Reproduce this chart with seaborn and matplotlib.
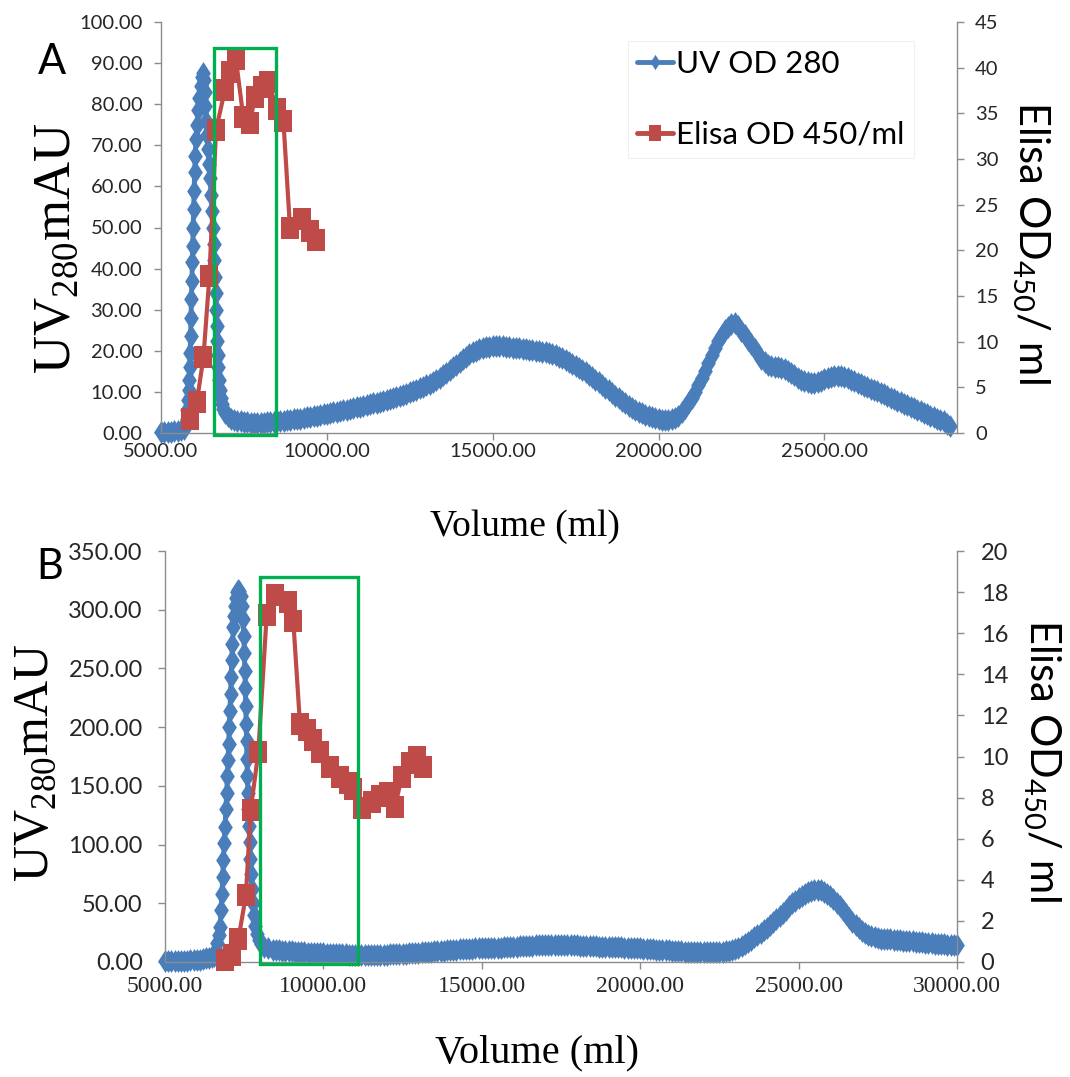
import matplotlib
matplotlib.use("Agg")
import matplotlib.pyplot as plt
import seaborn as sns
from matplotlib.lines import Line2D
from matplotlib.patches import Rectangle
from matplotlib.ticker import FormatStrFormatter, FixedLocator

# ---------------- data ----------------
# Panel A : UV OD 280 (volume ml, mAU)
A_UV = [
    (5000, 0.2), (5100, 0.25), (5200, 0.3), (5300, 0.35), (5400, 0.4), (5500, 0.5),
    (5600, 0.7), (5700, 1.0),
    (5740, 2.0), (5770, 3.5), (5795, 5.5), (5815, 8.0), (5835, 10.5), (5850, 13.0),
    (5865, 16.0), (5878, 19.5), (5890, 23.5), (5903, 28.0), (5916, 32.5), (5929, 37.0),
    (5942, 41.5), (5955, 45.5), (5968, 50.0), (5982, 54.5), (5998, 59.0), (6014, 63.5),
    (6032, 67.5), (6055, 71.5), (6085, 75.0), (6120, 78.5), (6160, 81.5), (6200, 84.5),
    (6240, 86.5), (6275, 87.5), (6300, 86.0), (6320, 83.0), (6340, 79.5), (6365, 76.0),
    (6390, 72.5), (6420, 69.0), (6450, 65.5), (6480, 62.0), (6510, 58.0), (6535, 54.0),
    (6560, 50.0), (6585, 46.0), (6605, 42.0), (6625, 38.0), (6645, 34.0), (6660, 30.0),
    (6675, 26.0), (6690, 22.5), (6705, 19.0), (6720, 16.0), (6740, 13.0), (6765, 10.5),
    (6795, 8.5), (6830, 7.0), (6880, 5.8), (6940, 4.8), (7010, 4.1),
    (7100, 3.5), (7200, 3.1), (7300, 2.95), (7400, 2.8), (7500, 2.7), (7600, 2.6),
    (7700, 2.55), (7800, 2.5), (7900, 2.5), (8000, 2.5), (8100, 2.55), (8200, 2.6),
    (8300, 2.65), (8400, 2.7), (8500, 2.8), (8600, 2.9), (8700, 3.0), (8800, 3.1),
    (8900, 3.2), (9000, 3.3), (9100, 3.4), (9200, 3.5), (9300, 3.65), (9400, 3.8),
    (9500, 3.95), (9600, 4.1), (9700, 4.25), (9800, 4.4), (9900, 4.55), (10000, 4.7),
    (10100, 4.85), (10200, 5.0), (10300, 5.15), (10400, 5.3), (10500, 5.5), (10600, 5.7),
    (10700, 5.9), (10800, 6.1), (10900, 6.25), (11000, 6.4), (11100, 6.6), (11200, 6.8),
    (11300, 7.0), (11400, 7.2), (11500, 7.4), (11600, 7.6), (11700, 7.8), (11800, 8.0),
    (11900, 8.25), (12000, 8.5), (12100, 8.75), (12200, 9.0), (12300, 9.3), (12400, 9.6),
    (12500, 9.9), (12600, 10.2), (12700, 10.55), (12800, 10.9), (12900, 11.25), (13000, 11.6),
    (13100, 12.0), (13200, 12.5), (13300, 13.0), (13400, 13.5), (13500, 14.1), (13600, 14.7),
    (13700, 15.35), (13800, 16.0), (13900, 16.65), (14000, 17.3), (14100, 17.95), (14200, 18.6),
    (14300, 19.1), (14400, 19.6), (14500, 20.0), (14600, 20.4), (14700, 20.7), (14800, 20.9),
    (14900, 21.0), (15000, 21.1), (15100, 21.1), (15200, 21.1), (15300, 21.05), (15400, 21.0),
    (15500, 20.9), (15600, 20.8), (15700, 20.7), (15800, 20.6), (15900, 20.5), (16000, 20.4),
    (16100, 20.25), (16200, 20.1), (16300, 20.0), (16400, 19.9), (16500, 19.75), (16600, 19.6),
    (16700, 19.4), (16800, 19.2), (16900, 18.9), (17000, 18.6), (17100, 18.2), (17200, 17.8),
    (17300, 17.35), (17400, 16.9), (17500, 16.4), (17600, 15.9), (17700, 15.35), (17800, 14.8),
    (17900, 14.2), (18000, 13.6), (18100, 12.95), (18200, 12.3), (18300, 11.65), (18400, 11.0),
    (18500, 10.35), (18600, 9.7), (18700, 9.05), (18800, 8.4), (18900, 7.8), (19000, 7.2),
    (19100, 6.65), (19200, 6.1), (19300, 5.65), (19400, 5.2), (19500, 4.8), (19600, 4.4),
    (19700, 4.1), (19800, 3.8), (19900, 3.55), (20000, 3.3), (20100, 3.2), (20200, 3.1),
    (20300, 3.15), (20400, 3.3), (20500, 3.7), (20600, 4.2), (20700, 5.0), (20800, 6.0),
    (20900, 7.2), (21000, 8.5), (21100, 10.0), (21200, 11.6), (21300, 13.4), (21400, 15.2),
    (21500, 17.1), (21600, 19.0), (21700, 20.8), (21800, 22.4), (21900, 23.8), (22000, 25.0),
    (22100, 25.9), (22200, 26.5), (22300, 26.8), (22400, 26.0), (22500, 24.9), (22600, 23.8),
    (22700, 22.7), (22800, 21.6), (22900, 20.4), (23000, 19.2), (23100, 18.1), (23200, 17.2),
    (23300, 16.6), (23400, 16.2), (23500, 16.1), (23600, 16.0), (23700, 15.8), (23800, 15.5),
    (23900, 15.0), (24000, 14.5), (24100, 14.0), (24200, 13.5), (24300, 13.0), (24400, 12.6),
    (24500, 12.3), (24600, 12.1), (24700, 12.2), (24800, 12.4), (24900, 12.75), (25000, 13.1),
    (25100, 13.4), (25200, 13.7), (25300, 13.85), (25400, 13.9), (25500, 13.8), (25600, 13.6),
    (25700, 13.3), (25800, 13.0), (25900, 12.6), (26000, 12.2), (26100, 11.85), (26200, 11.5),
    (26300, 11.15), (26400, 10.8), (26500, 10.45), (26600, 10.1), (26700, 9.75), (26800, 9.4),
    (26900, 9.0), (27000, 8.6), (27100, 8.25), (27200, 7.9), (27300, 7.5), (27400, 7.1),
    (27500, 6.75), (27600, 6.4), (27700, 6.0), (27800, 5.6), (27900, 5.25), (28000, 4.9),
    (28100, 4.55), (28200, 4.2), (28300, 3.85), (28400, 3.5), (28500, 3.15), (28600, 2.8),
    (28700, 2.3), (28800, 1.8),
]
A_UV_VOL, A_UV_VAL = map(list, zip(*A_UV))

# Panel A : Elisa OD 450/ml
A_EL_VOL = [5870, 6080, 6280, 6460, 6660, 6930, 7080, 7260, 7480, 7680,
            7830, 8040, 8240, 8490, 8690, 8890, 9240, 9490, 9670]
A_EL_VAL = [1.5, 3.4, 8.3, 17.2, 33.2, 37.6, 39.5, 40.9, 34.6, 33.9,
            36.8, 37.9, 38.4, 35.5, 34.2, 22.4, 23.4, 22.1, 21.1]

# Panel B : UV OD 280
B_UV = [
    (5000, 0.5), (5100, 0.55), (5200, 0.6), (5300, 0.7), (5400, 0.8), (5500, 0.9),
    (5600, 1.0), (5700, 1.15), (5800, 1.3), (5900, 1.5), (6000, 1.8), (6100, 2.1),
    (6200, 2.5), (6300, 3.0), (6400, 3.5), (6480, 4.2), (6560, 5.0),
    (6600, 10.0), (6650, 16.0), (6700, 23.0), (6740, 30.0), (6770, 44.0), (6795, 58.0),
    (6820, 72.0), (6840, 87.0), (6870, 101.0), (6895, 115.0), (6920, 130.0), (6945, 144.0),
    (6970, 158.0), (6990, 172.0), (7010, 186.0), (7030, 200.0), (7050, 214.0), (7070, 228.0),
    (7088, 243.0), (7105, 257.0), (7130, 271.0), (7160, 285.0), (7185, 295.0), (7210, 303.0),
    (7245, 310.0), (7280, 315.0), (7314, 317.0), (7350, 316.0), (7390, 312.0), (7430, 303.0),
    (7460, 292.0), (7485, 278.0), (7505, 263.0), (7520, 248.0), (7535, 233.0), (7548, 218.0),
    (7560, 203.0), (7573, 188.0), (7586, 173.0), (7600, 158.0), (7615, 144.0), (7630, 130.0),
    (7650, 116.0), (7670, 102.0), (7695, 88.0), (7720, 75.0), (7750, 62.0), (7780, 50.0),
    (7815, 40.0), (7855, 31.0), (7900, 24.0), (7960, 19.0), (8030, 15.0), (8120, 13.0),
    (8250, 11.5), (8400, 10.5), (8500, 10.2),
    (8600, 10.0), (8700, 9.75), (8800, 9.5), (8900, 9.25), (9000, 9.0), (9100, 8.8),
    (9200, 8.6), (9300, 8.4), (9400, 8.2), (9500, 8.05), (9600, 7.9), (9700, 7.75),
    (9800, 7.6), (9900, 7.45), (10000, 7.3), (10100, 7.15), (10200, 7.0), (10300, 6.9),
    (10400, 6.8), (10500, 6.65), (10600, 6.5), (10700, 6.4), (10800, 6.3), (10900, 6.2),
    (11000, 6.1), (11100, 6.05), (11200, 6.0), (11300, 6.0), (11400, 6.0), (11500, 6.0),
    (11600, 6.0), (11700, 6.05), (11800, 6.1), (11900, 6.2), (12000, 6.3), (12100, 6.4),
    (12200, 6.5), (12300, 6.65), (12400, 6.8), (12500, 6.95), (12600, 7.1), (12700, 7.3),
    (12800, 7.5), (12900, 7.7), (13000, 7.9), (13100, 8.1), (13200, 8.3), (13300, 8.5),
    (13400, 8.7), (13500, 8.95), (13600, 9.2), (13700, 9.45), (13800, 9.7), (13900, 9.95),
    (14000, 10.2), (14100, 10.4), (14200, 10.6), (14300, 10.8), (14400, 11.0), (14500, 11.15),
    (14600, 11.3), (14700, 11.45), (14800, 11.6), (14900, 11.7), (15000, 11.8), (15100, 11.9),
    (15200, 12.0), (15300, 12.05), (15400, 12.1), (15500, 12.2), (15600, 12.3), (15700, 12.45),
    (15800, 12.6), (15900, 12.75), (16000, 12.9), (16100, 13.1), (16200, 13.3), (16300, 13.5),
    (16400, 13.7), (16500, 13.85), (16600, 14.0), (16700, 14.15), (16800, 14.3), (16900, 14.4),
    (17000, 14.5), (17100, 14.55), (17200, 14.6), (17300, 14.6), (17400, 14.6), (17500, 14.55),
    (17600, 14.5), (17700, 14.4), (17800, 14.3), (17900, 14.2), (18000, 14.1), (18100, 14.0),
    (18200, 13.9), (18300, 13.75), (18400, 13.6), (18500, 13.45), (18600, 13.3), (18700, 13.15),
    (18800, 13.0), (18900, 12.9), (19000, 12.8), (19100, 12.7), (19200, 12.6), (19300, 12.5),
    (19400, 12.4), (19500, 12.3), (19600, 12.2), (19700, 12.1), (19800, 12.0), (19900, 11.8),
    (20000, 11.6), (20100, 11.4), (20200, 11.2), (20300, 11.0), (20400, 10.8), (20500, 10.6),
    (20600, 10.4), (20700, 10.2), (20800, 10.0), (20900, 9.8), (21000, 9.6), (21100, 9.4),
    (21200, 9.2), (21300, 9.05), (21400, 8.9), (21500, 8.8), (21600, 8.7), (21700, 8.6),
    (21800, 8.5), (21900, 8.45), (22000, 8.4), (22100, 8.4), (22200, 8.4), (22300, 8.45),
    (22400, 8.5), (22500, 8.65), (22600, 8.8), (22700, 9.15), (22800, 9.6), (22900, 10.2),
    (23000, 11.0), (23100, 12.1), (23200, 13.5), (23300, 15.2), (23400, 17.0), (23500, 19.0),
    (23600, 21.0), (23700, 23.0), (23800, 25.0), (23900, 27.0), (24000, 29.0), (24100, 31.5),
    (24200, 34.0), (24300, 36.5), (24400, 39.0), (24500, 41.7), (24600, 44.5), (24700, 47.3),
    (24800, 50.0), (24900, 52.3), (25000, 54.5), (25100, 56.3), (25200, 58.0), (25300, 59.3),
    (25400, 60.5), (25500, 61.1), (25600, 61.5), (25700, 61.0), (25800, 60.0), (25900, 58.2),
    (26000, 56.0), (26100, 53.4), (26200, 50.5), (26300, 47.3), (26400, 44.0), (26500, 40.7),
    (26600, 37.5), (26700, 34.4), (26800, 31.5), (26900, 28.8), (27000, 26.5), (27100, 24.6),
    (27200, 23.0), (27300, 21.9), (27400, 21.0), (27500, 20.4), (27600, 20.0), (27700, 19.7),
    (27800, 19.5), (27900, 19.2), (28000, 19.0), (28100, 18.7), (28200, 18.5), (28300, 18.2),
    (28400, 18.0), (28500, 17.7), (28600, 17.5), (28700, 17.2), (28800, 17.0), (28900, 16.7),
    (29000, 16.5), (29100, 16.2), (29200, 16.0), (29300, 15.7), (29400, 15.5), (29500, 15.2),
    (29600, 15.0), (29700, 14.85), (29800, 14.7), (29900, 14.6), (30000, 14.5),
]
B_UV_VOL, B_UV_VAL = map(list, zip(*B_UV))

# Panel B : Elisa OD 450/ml
B_EL_VOL = [6890, 7105, 7315, 7555, 7705, 7945, 8210, 8470, 8890, 9050,
            9260, 9470, 9680, 9890, 10200, 10520, 10790, 10950, 11210, 11525,
            11785, 12050, 12260, 12470, 12735, 12945, 13155]
B_EL_VAL = [0.1, 0.35, 1.1, 3.25, 7.4, 10.2, 16.9, 17.85, 17.5, 16.6,
            11.6, 11.3, 10.8, 10.2, 9.5, 9.0, 8.7, 8.4, 7.5, 7.8,
            8.1, 8.2, 7.55, 9.0, 9.7, 10.0, 9.5]

# axis / tick definitions
A_XTICKS = [5000, 10000, 15000, 20000, 25000]
B_XTICKS = [5000, 10000, 15000, 20000, 25000, 30000]
A_LEFT_TICKS = [0, 10, 20, 30, 40, 50, 60, 70, 80, 90, 100]
A_RIGHT_TICKS = [0, 5, 10, 15, 20, 25, 30, 35, 40, 45]
B_LEFT_TICKS = [0, 50, 100, 150, 200, 250, 300, 350]
B_RIGHT_TICKS = [0, 2, 4, 6, 8, 10, 12, 14, 16, 18, 20]
SERIES_LABELS = ["UV OD 280", "Elisa OD 450/ml"]

# highlighted windows (volume range, UV range)
A_BOX = (6600, 8470, -0.5, 93.6)
B_BOX = (8000, 11080, -1.7, 328)

# ---------------- style ----------------
BLUE = "#4A7EBB"
RED = "#BE4B48"
GREEN = "#00B050"
SPINE = "#8C8C8C"
TXT = "#262626"
SANS = ["Lato", "DejaVu Sans"]
SERIF = ["Liberation Serif", "DejaVu Serif"]

sns.set_theme(style="white")
plt.rcParams["font.family"] = SANS
plt.rcParams["mathtext.fontset"] = "custom"
plt.rcParams["mathtext.rm"] = "Liberation Serif"
plt.rcParams["mathtext.sf"] = "Lato"

DIAMOND = [(0, 1), (0.64, 0), (0, -1), (-0.64, 0), (0, 1)]
SQUARE = [(-0.76, -1), (0.76, -1), (0.76, 1), (-0.76, 1), (-0.76, -1)]

W, H = 1070, 1077
fig = plt.figure(figsize=(W / 100, H / 100), dpi=100)


def fx(px):
    return px / W


def fy(py):
    return 1 - py / H


def make_panel(rect, uv_x, uv_y, el_x, el_y, xlim, xticks, lticks, rticks,
               box, xtick_family, xsize, ysize, lpad, rpad, xpad):
    ax = fig.add_axes(rect)
    ax2 = ax.twinx()
    sns.lineplot(x=uv_x, y=uv_y, ax=ax, color=BLUE, marker=DIAMOND,
                 markersize=16.5, markeredgewidth=0, linewidth=3.5,
                 estimator=None, sort=False, clip_on=False, legend=False)
    sns.lineplot(x=el_x, y=el_y, ax=ax2, color=RED, marker=SQUARE,
                 markersize=16.5, markeredgewidth=0, linewidth=3.0,
                 estimator=None, sort=False, clip_on=False, legend=False)
    x0, x1, y0, y1 = box
    rect_p = Rectangle((x0, y0), x1 - x0, y1 - y0, transform=ax.transData,
                       fill=False, edgecolor=GREEN, linewidth=2.4,
                       clip_on=False, zorder=10)
    ax2.add_patch(rect_p)

    ax.set_xlim(*xlim)
    ax.set_ylim(lticks[0], lticks[-1])
    ax2.set_ylim(rticks[0], rticks[-1])
    ax.xaxis.set_major_locator(FixedLocator(xticks))
    ax.yaxis.set_major_locator(FixedLocator(lticks))
    ax2.yaxis.set_major_locator(FixedLocator(rticks))
    ax.xaxis.set_major_formatter(FormatStrFormatter("%.2f"))
    ax.yaxis.set_major_formatter(FormatStrFormatter("%.2f"))
    ax2.yaxis.set_major_formatter(FormatStrFormatter("%d"))
    ax.set_xlabel("")
    ax.set_ylabel("")
    ax2.set_ylabel("")
    for a in (ax, ax2):
        a.set_facecolor("none")
        for s in a.spines.values():
            s.set_color(SPINE)
            s.set_linewidth(1.0)
        a.spines["top"].set_visible(False)
        a.grid(False)
    ax.spines["right"].set_visible(False)
    ax2.spines["left"].set_visible(False)
    ax2.spines["bottom"].set_visible(False)
    ax.tick_params(axis="y", direction="out", length=5, width=1, color=SPINE,
                   labelsize=ysize, labelcolor=TXT, pad=lpad, left=True)
    ax.tick_params(axis="x", direction="out", length=5, width=1, color=SPINE,
                   labelsize=xsize, labelcolor=TXT, pad=xpad, bottom=True)
    ax2.tick_params(axis="y", direction="out", length=5, width=1, color=SPINE,
                    labelsize=ysize, labelcolor=TXT, pad=rpad, right=True)
    for lab in ax.get_xticklabels():
        lab.set_family(xtick_family)
    return ax, ax2


axA, axA2 = make_panel([fx(161), fy(433), fx(957) - fx(161), fy(22) - fy(433)],
                       A_UV_VOL, A_UV_VAL, A_EL_VOL, A_EL_VAL, (5000, 29000),
                       A_XTICKS, A_LEFT_TICKS, A_RIGHT_TICKS, A_BOX, SANS,
                       14.5, 14.5, 8.5, 8, 2)
axB, axB2 = make_panel([fx(165), fy(962), fx(957) - fx(165), fy(551) - fy(962)],
                       B_UV_VOL, B_UV_VAL, B_EL_VOL, B_EL_VAL, (5000, 30000),
                       B_XTICKS, B_LEFT_TICKS, B_RIGHT_TICKS, B_BOX, SERIF,
                       17, 17, 11, 12, 5)

# legend (panel A)
handles = [
    Line2D([], [], color=BLUE, marker=DIAMOND, markersize=11, markeredgewidth=0, linewidth=3.5),
    Line2D([], [], color=RED, marker=SQUARE, markersize=11, markeredgewidth=0, linewidth=3.5),
]
leg = axA2.legend(handles, SERIES_LABELS, loc="upper right",
                  bbox_to_anchor=(fx(914), fy(41)), bbox_transform=fig.transFigure,
                  fontsize=22.5, frameon=True, fancybox=False, framealpha=1,
                  edgecolor="#F0F0F0", handlelength=1.15, handletextpad=0.1,
                  labelspacing=1.35, borderpad=0.3, borderaxespad=0)
leg.get_frame().set_linewidth(0.8)
for t in leg.get_texts():
    t.set_color("black")

# panel letters
fig.text(fx(52), fy(62), "A", fontsize=30, ha="center", va="center", color="black", family=SANS)
fig.text(fx(50), fy(567), "B", fontsize=30, ha="center", va="center", color="black", family=SANS)

# axis titles
ylab = r"UV$_{\mathrm{280}}$mAU"
fig.text(fx(57), fy(248), ylab, rotation=90, fontsize=38, ha="center", va="center",
         family=SERIF, color="black")
fig.text(fx(36), fy(763), ylab, rotation=90, fontsize=36, ha="center", va="center",
         family=SERIF, color="black")
rlab = r"Elisa OD$_{\mathsf{450}}$/ ml"
fig.text(fx(1031), fy(242), rlab, rotation=270, fontsize=30, ha="center", va="center",
         family=SANS, color="black")
fig.text(fx(1042), fy(760), rlab, rotation=270, fontsize=30, ha="center", va="center",
         family=SANS, color="black")
fig.text(fx(525), fy(527), "Volume (ml)", fontsize=27, ha="center", va="center",
         family=SERIF, color="black")
fig.text(fx(537), fy(1034), "Volume (ml)", fontsize=29, ha="center", va="top",
         family=SERIF, color="black")

fig.savefig("out.png", dpi=100, facecolor="white")
